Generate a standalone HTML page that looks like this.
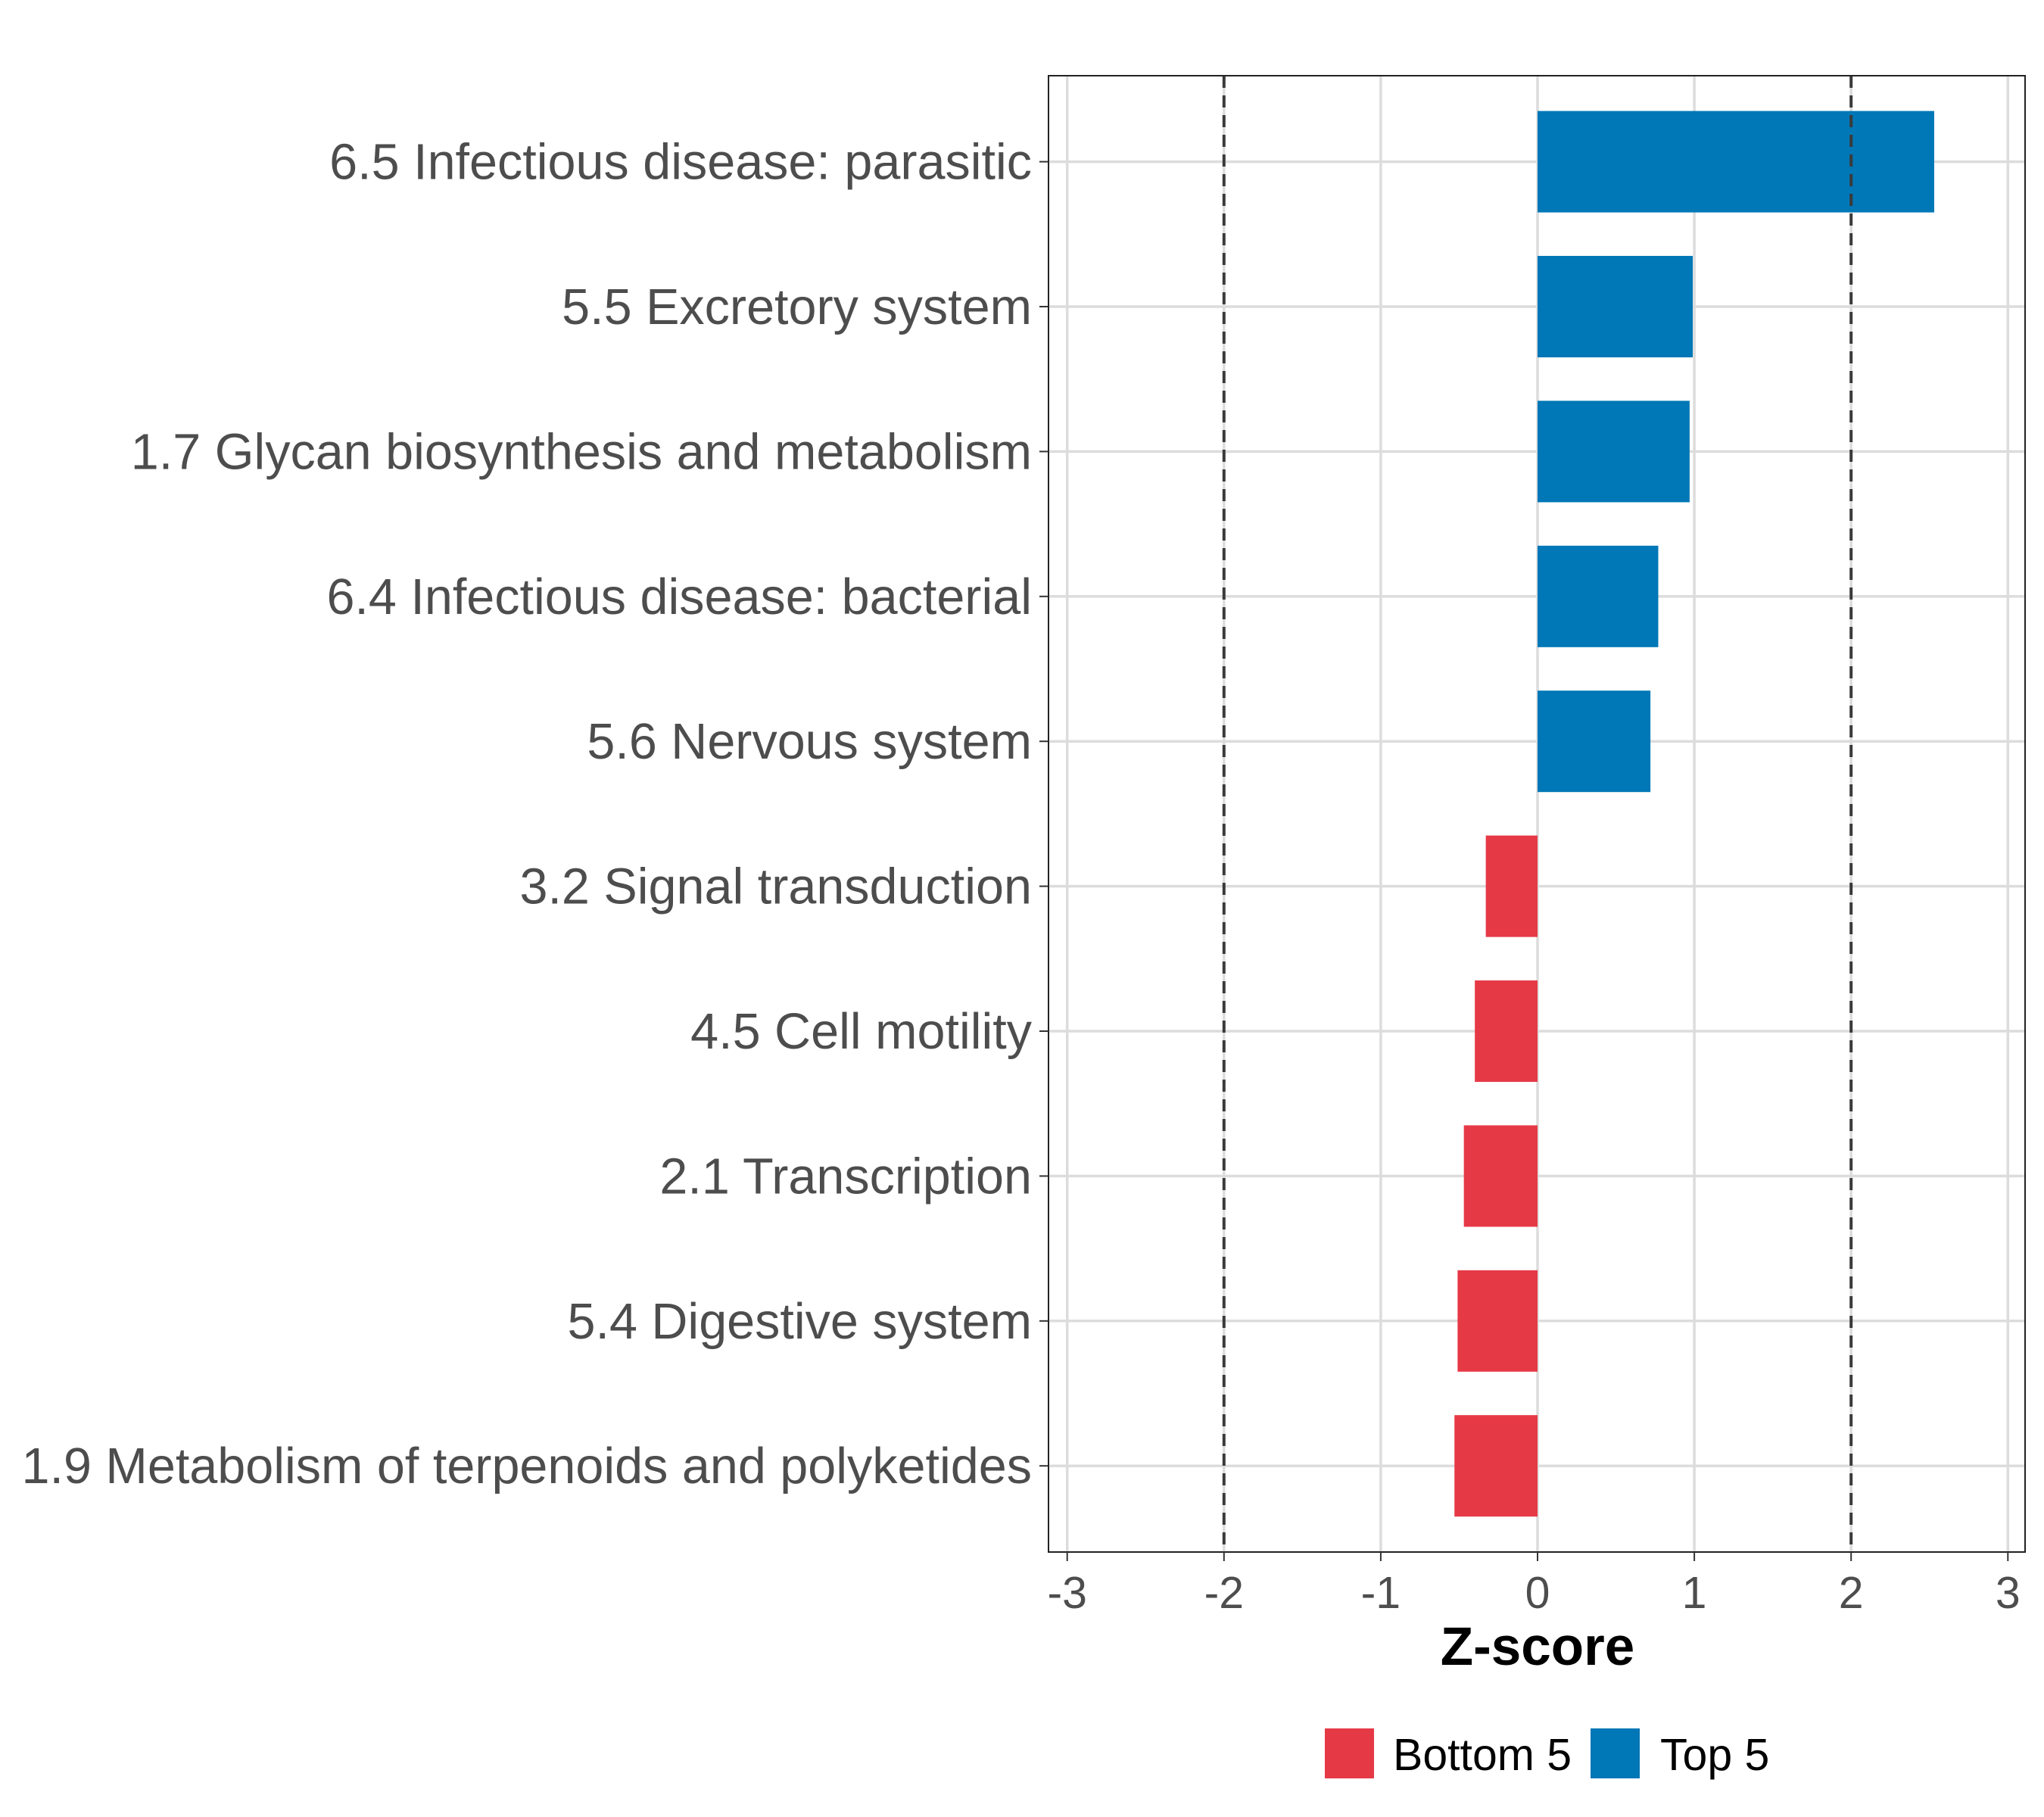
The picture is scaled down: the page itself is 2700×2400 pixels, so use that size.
<!DOCTYPE html>
<html><head><meta charset="utf-8"><style>
html,body{margin:0;padding:0;background:#fff;}
svg{display:block;font-family:"Liberation Sans",Arial,sans-serif;}
</style></head><body>
<svg id="chart" width="2700" height="2400" viewBox="0 0 2700 2400" xmlns="http://www.w3.org/2000/svg">
<rect x="0" y="0" width="2700" height="2400" fill="#fff"/>
<g id="grid"></g>
<g id="bars"></g>
<g id="refs"></g>
<rect x="1385" y="100" width="1290" height="1950" fill="none" stroke="#222" stroke-width="2"/>
<g id="axes"></g>
<text x="2031" y="2199" text-anchor="middle" font-size="71" font-weight="bold" fill="#000">Z-score</text>
<g>
<g>
<rect x="1750" y="2283" width="65" height="66" fill="#E63946"/>
<text x="1840" y="2338" font-size="59" fill="#000">Bottom 5</text>
</g>
<g>
<rect x="2101" y="2283" width="65" height="66" fill="#0077B6"/>
<text x="2193" y="2338" font-size="59" fill="#000">Top 5</text>
</g>
</g>
</svg>
<script>
const categories = ["6.5 Infectious disease: parasitic","5.5 Excretory system","1.7 Glycan biosynthesis and metabolism","6.4 Infectious disease: bacterial","5.6 Nervous system","3.2 Signal transduction","4.5 Cell motility","2.1 Transcription","5.4 Digestive system","1.9 Metabolism of terpenoids and polyketides"];
const values = [2.53, 0.99, 0.97, 0.77, 0.72, -0.33, -0.40, -0.47, -0.51, -0.53];
const groups = ["Top 5","Top 5","Top 5","Top 5","Top 5","Bottom 5","Bottom 5","Bottom 5","Bottom 5","Bottom 5"];
const xTicks = [-3,-2,-1,0,1,2,3];
const xTickLabels = ["-3","-2","-1","0","1","2","3"];
const refLines = [-2, 2];

const NS="http://www.w3.org/2000/svg";
const X0=2031, UNIT=207.1, PTOP=100, PBOT=2050, PLEFT=1385, PRIGHT=2675;
const ROWSTEP=191.4, FIRSTROW=213.6, BARH=134;
const xs=v=>X0+v*UNIT;
const ys=i=>FIRSTROW+i*ROWSTEP;
const colors={"Top 5":"#0077B6","Bottom 5":"#E63946"};
function mk(tag,attrs,parent){const e=document.createElementNS(NS,tag);for(const k in attrs)e.setAttribute(k,attrs[k]);parent.appendChild(e);return e;}
const gGrid=document.getElementById('grid'),gBars=document.getElementById('bars'),gRefs=document.getElementById('refs'),gAxes=document.getElementById('axes');
xTicks.forEach((t,i)=>{
  const l=mk('line',{x1:xs(t),x2:xs(t),y1:PTOP,y2:PBOT,stroke:'#dcdcdc','stroke-width':3.5},gGrid);
  
  
  const tk=mk('line',{x1:xs(t),x2:xs(t),y1:PBOT,y2:PBOT+12,stroke:'#333','stroke-width':2},gAxes);
  
  
  const tx=mk('text',{x:xs(t),y:PBOT+74,'text-anchor':'middle','font-size':59,fill:'#4d4d4d'},gAxes);
  tx.textContent=xTickLabels[i];
  
  
});
categories.forEach((c,i)=>{
  const y=ys(i);
  const l=mk('line',{x1:PLEFT,x2:PRIGHT,y1:y,y2:y,stroke:'#dcdcdc','stroke-width':3.5},gGrid);
  
  
  const v=values[i];
  const b=mk('rect',{x:Math.min(xs(0),xs(v)),y:y-BARH/2,width:Math.abs(xs(v)-xs(0)),height:BARH,fill:colors[groups[i]]},gBars);
  
  
  const tk=mk('line',{x1:PLEFT-12,x2:PLEFT,y1:y,y2:y,stroke:'#333','stroke-width':2},gAxes);
  
  
  const tx=mk('text',{x:PLEFT-22,y:y+23,'text-anchor':'end','font-size':66.5,fill:'#4d4d4d'},gAxes);
  tx.textContent=c;
  
  
});
refLines.forEach(r=>{
  const l=mk('line',{x1:xs(r),x2:xs(r),y1:PTOP,y2:PBOT,stroke:'#3a3a3a','stroke-width':4,'stroke-dasharray':'16,10'},gRefs);
  
  
});
</script>
</body></html>
